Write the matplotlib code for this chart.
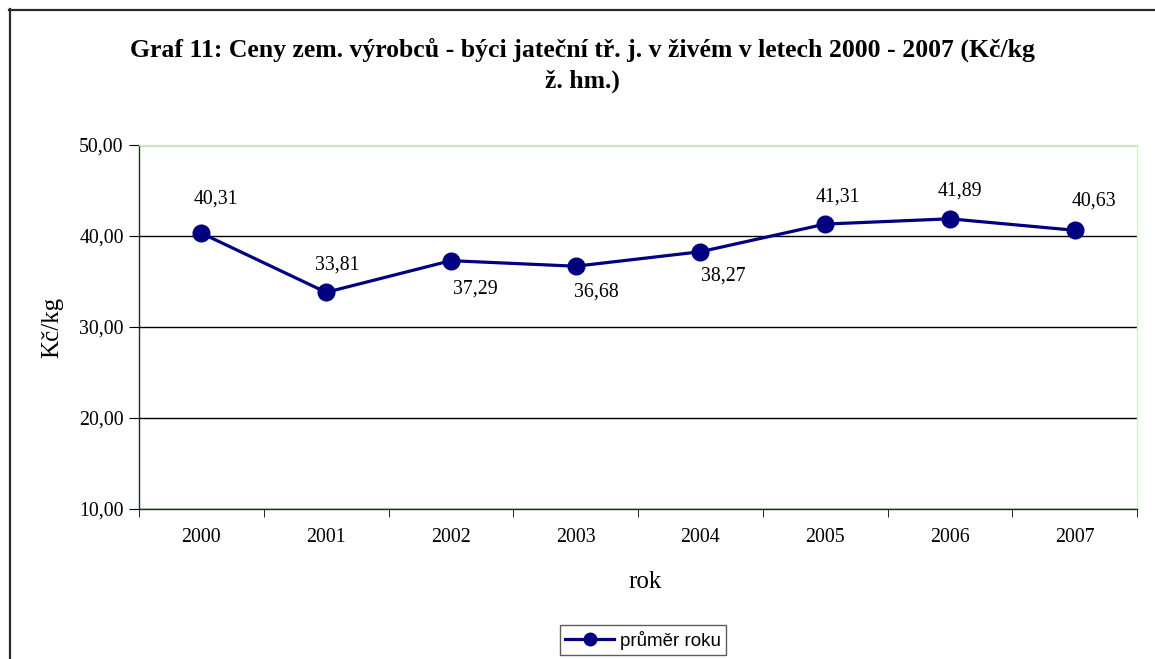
import matplotlib
matplotlib.use("Agg")
import matplotlib.pyplot as plt
from matplotlib.lines import Line2D
from matplotlib.ticker import FuncFormatter, FixedLocator

years = ['2000', '2001', '2002', '2003', '2004', '2005', '2006', '2007']
prices = [40.31, 33.81, 37.29, 36.68, 38.27, 41.31, 41.89, 40.63]

# where each data label sits relative to its point (pixels, x right / y up)
label_dx = [15, 11, 24, 21, 23, 13, 10, 19]
label_dy = [34, 27, -28, -26, -24, 27, 28, 29]

title1 = 'Graf 11: Ceny zem. výrobců - býci jateční tř. j. v živém v letech 2000 - 2007 (Kč/kg'
title2 = 'ž. hm.)'

serif = 'Liberation Serif'
navy = '#000080'

fig = plt.figure(figsize=(11.55, 6.59), dpi=100)
ax = fig.add_axes([139/1155, 150/659, 998/1155, 364/659])

x = list(range(len(years)))
ax.plot(x, prices, color=navy, lw=2.3, marker='o', ms=12, label='průměr roku', zorder=3)

for i, v in enumerate(prices):
    txt = f'{v:.2f}'.replace('.', ',')
    ax.annotate(txt, (i, v), xytext=(label_dx[i], label_dy[i]), textcoords='offset pixels',
                ha='center', va='center', fontsize=14.3, family=serif)

ax.set_ylim(10, 50)
ax.set_xlim(-0.5, len(years) - 0.5)
ax.set_yticks([10, 20, 30, 40, 50])
ax.yaxis.set_major_formatter(FuncFormatter(lambda v, p: f'{v:.2f}'.replace('.', ',')))
ax.grid(axis='y', color='black', lw=1)
ax.set_axisbelow(True)

ax.set_xticks(x)
ax.set_xticklabels(years)
ax.xaxis.set_minor_locator(FixedLocator([i - 0.5 for i in range(len(years) + 1)]))
ax.tick_params(axis='x', which='major', length=0, pad=14, labelsize=14.3)
ax.tick_params(axis='x', which='minor', length=6, color='black')
ax.tick_params(axis='y', length=7, labelsize=14.3, pad=4)
for lab in ax.get_xticklabels() + ax.get_yticklabels():
    lab.set_family(serif)

ax.spines['left'].set_color('#1c301c')
ax.spines['bottom'].set_color('#1c301c')
ax.spines['top'].set_color('#c4f7c4')
ax.spines['right'].set_color('#c4f7c4')
for s in ax.spines.values():
    s.set_linewidth(1)

ax.set_ylabel('Kč/kg', fontsize=18, family=serif)
ax.yaxis.set_label_coords((63 - 139) / 998, 0.5)
ax.set_xlabel('rok', fontsize=18, family=serif)
ax.xaxis.set_label_coords((645 - 139) / 998, -(571 - 509) / 364)

fig.text(582/1155, 1 - 50/659, title1, ha='center', va='center', fontsize=18.5,
         fontweight='bold', family=serif)
fig.text(582/1155, 1 - 81/659, title2, ha='center', va='center', fontsize=18.5,
         fontweight='bold', family=serif)

leg = fig.legend(loc='center', bbox_to_anchor=(643/1155, 1 - 640/659), frameon=True,
                 prop={'family': 'Liberation Sans', 'size': 13.5}, handlelength=2.6,
                 borderpad=0.3, handletextpad=0.3, fancybox=False)
leg.get_frame().set_edgecolor('#333333')
leg.get_frame().set_linewidth(1)
for h in leg.legend_handles:
    h.set_markersize(9)

# outer chart border (top and left visible)
fig.add_artist(Line2D([9/1155, 1], [1 - 9.5/659, 1 - 9.5/659], color='#2a2a2a', lw=1.6))
fig.add_artist(Line2D([9.5/1155, 9.5/1155], [0, 1 - 9/659], color='#2a2a2a', lw=1.6))

fig.savefig('out.png', dpi=100)
